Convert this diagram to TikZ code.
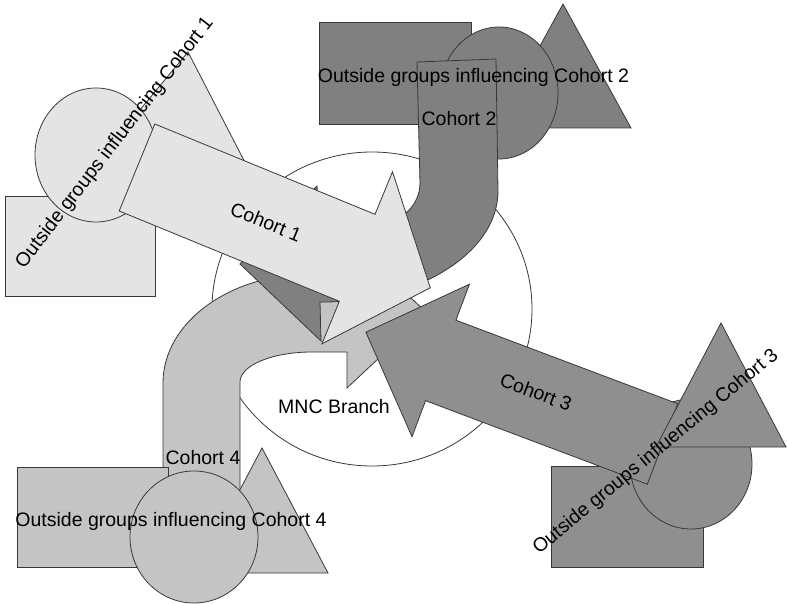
\documentclass[tikz,border=0pt]{standalone}
\usepackage{fontspec}
\setmainfont{Liberation Sans}
\definecolor{cohortA}{gray}{0.895}
\definecolor{cohortB}{gray}{0.50}
\definecolor{cohortC}{gray}{0.56}
\definecolor{cohortD}{gray}{0.77}
\definecolor{outline}{gray}{0.22}
% straight block arrow along the local x axis: half width, body length, head half width, tip
\newcommand{\cohortarrow}[5]{%
  \draw[#1] (0,-#2) -- (#3,-#2) -- (#3,-#4) -- (#5,0) -- (#3,#4) -- (#3,#2) -- (0,#2) -- cycle;}
\begin{document}
\begin{tikzpicture}[x=1pt,y=-1pt,
  edge/.style={draw=outline,line width=0.8pt,line join=miter},
  fillA/.style={edge,fill=cohortA},
  fillB/.style={edge,fill=cohortB},
  fillC/.style={edge,fill=cohortC},
  fillD/.style={edge,fill=cohortD},
  txt/.style={font=\fontsize{19.5}{23}\selectfont,inner sep=0pt,text=black}]
\useasboundingbox (0,0) rectangle (787,604);
\fill[white] (0,0) rectangle (787,604);

% the branch in the middle
\draw[edge,fill=white] (372,309) ellipse [x radius=160pt, y radius=157pt];

% Cohort 4: bent arrow rising from the bottom and turning right
\draw[fillD] (163,500) -- (163,383)
  .. controls (163,322.8) and (229.3,274) .. (311,274)
  -- (347,274) -- (347,238) -- (427,313) -- (347,388) -- (347,352) -- (312,352)
  .. controls (272.2,352) and (240,365.4) .. (240,382)
  -- (240,500) -- cycle;

% outside groups of cohort 4
\draw[fillD] (17,467) rectangle (168,567);
\draw[fillD] (196,573) -- (262,448) -- (328,573) -- cycle;
\draw[fillD] (194,537) ellipse [x radius=64pt, y radius=66pt];

% outside groups of cohort 2
\draw[fillB] (319,22) rectangle (471,124);
\draw[fillB] (495,128) -- (563,4) -- (631,128) -- cycle;
\draw[fillB] (499,93) ellipse [x radius=59pt, y radius=66pt];

% Cohort 2: U-turn arrow coming down and heading left
\draw[fillB] (417,62) -- (496,59) -- (498,191)
  .. controls (498,252) and (420,302) .. (323,302)
  -- (320,302) -- (321,341) -- (240,264) -- (317,186) -- (319,222) -- (381,222)
  .. controls (402.5,222) and (420,204.5) .. (420,183)
  -- cycle;

% outside groups of cohort 1
\draw[fillA] (5,196) rectangle (155,296);
\draw[fillA] (85,176) -- (188,52) -- (252,176) -- cycle;
\draw[fillA] (96,155) ellipse [x radius=61pt, y radius=67pt];

% Cohort 1 arrow
\begin{scope}[shift={(137,167.5)},rotate=-22.3]
  \cohortarrow{fillA}{47}{238}{93}{317}
\end{scope}

% outside groups of cohort 3 (rectangle and circle below the arrow)
\draw[fillC] (551,466) rectangle (703,567);
\draw[fillC] (691,464) ellipse [x radius=61pt, y radius=65pt];

% Cohort 3 arrow
\begin{scope}[shift={(662.5,444)},rotate=-200.65]
  \cohortarrow{fillC}{43}{237}{81.5}{317}
\end{scope}
\draw[fillC] (656,447) -- (721,323) -- (786,447) -- cycle;

% labels
\node[txt] (branch) at (334,407) {MNC Branch};
\node[txt,rotate=-22.3] (c1) at (266,222) {Cohort 1};
\node[txt] (c2) at (459,119) {Cohort 2};
\node[txt,rotate=-20.65] (c3) at (536,392) {Cohort 3};
\node[txt] (c4) at (203,458) {Cohort 4};
\node[txt,rotate=52.4] (g1) at (115,143) {Outside groups influencing Cohort 1};
\node[txt] (g2) at (473.5,77) {Outside groups influencing Cohort 2};
\node[txt,rotate=39.4] (g3) at (656,452) {Outside groups influencing Cohort 3};
\node[txt] (g4) at (171,521) {Outside groups influencing Cohort 4};
\end{tikzpicture}
\end{document}
